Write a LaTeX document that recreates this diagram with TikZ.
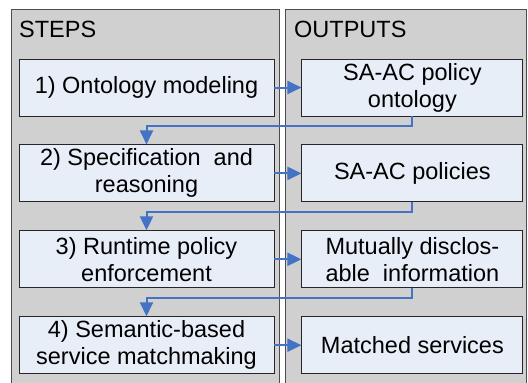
\documentclass[tikz,border=0pt]{standalone}
\usepackage{fontspec}
\setmainfont{Liberation Sans}
\usetikzlibrary{positioning, arrows.meta, calc}

\definecolor{panelgray}{HTML}{D0D0D0}
\definecolor{boxfill}{HTML}{E8EEF8}
\definecolor{linkblue}{HTML}{4472C4}

\begin{document}
\begin{tikzpicture}[
  x=1pt, y=1pt,
  >={Triangle[length=14pt, width=13pt]},
  every node/.style={font=\fontsize{23.5}{27}\selectfont},
  panel/.style = {draw=black!70, fill=panelgray, line width=0.9pt},
  stepbox/.style = {align=center, draw=black!85, fill=boxfill, line width=0.9pt, minimum width=255pt, minimum height=57pt, inner sep=0pt},
  outbox/.style  = {stepbox, minimum width=221pt},
  title/.style = {anchor=base west, inner sep=0pt},
  link/.style  = {->, linkblue, line width=2pt},
]
  \useasboundingbox (0,0) rectangle (528,-383);
  % the two columns
  \draw[panel] (11,-9) rectangle (279,-390);
  \draw[panel] (285,-9) rectangle (526,-390);
  \node[title] (steps) at (19,-37) {STEPS};
  \node[title] (outs) at (294,-37) {OUTPUTS};

  \node[stepbox] (s1) at (146.5,-87.5) {1) Ontology modeling};
  \node[stepbox, below=28pt of s1] (s2) {2) Specification\ \ and\\reasoning};
  \node[stepbox, below=28pt of s2] (s3) {3) Runtime policy\\enforcement};
  \node[stepbox, below=28pt of s3] (s4) {4) Semantic-based\\service matchmaking};

  \node[outbox, right=27pt of s1] (o1) {SA-AC policy\\ontology};
  \node[outbox, right=27pt of s2] (o2) {SA-AC policies};
  \node[outbox, right=27pt of s3] (o3) {Mutually disclos-\\able\ \ information};
  \node[outbox, right=27pt of s4] (o4) {Matched services};

  \foreach \a/\b in {s1/o1,s2/o2,s3/o3,s4/o4}\draw[link] (\a) -- (\b);
  \foreach \a/\b in {o1/s2,o2/s3,o3/s4}\draw[link] (\a.south) -- ++(0,-10) -| (\b.north);
\end{tikzpicture}
\end{document}
